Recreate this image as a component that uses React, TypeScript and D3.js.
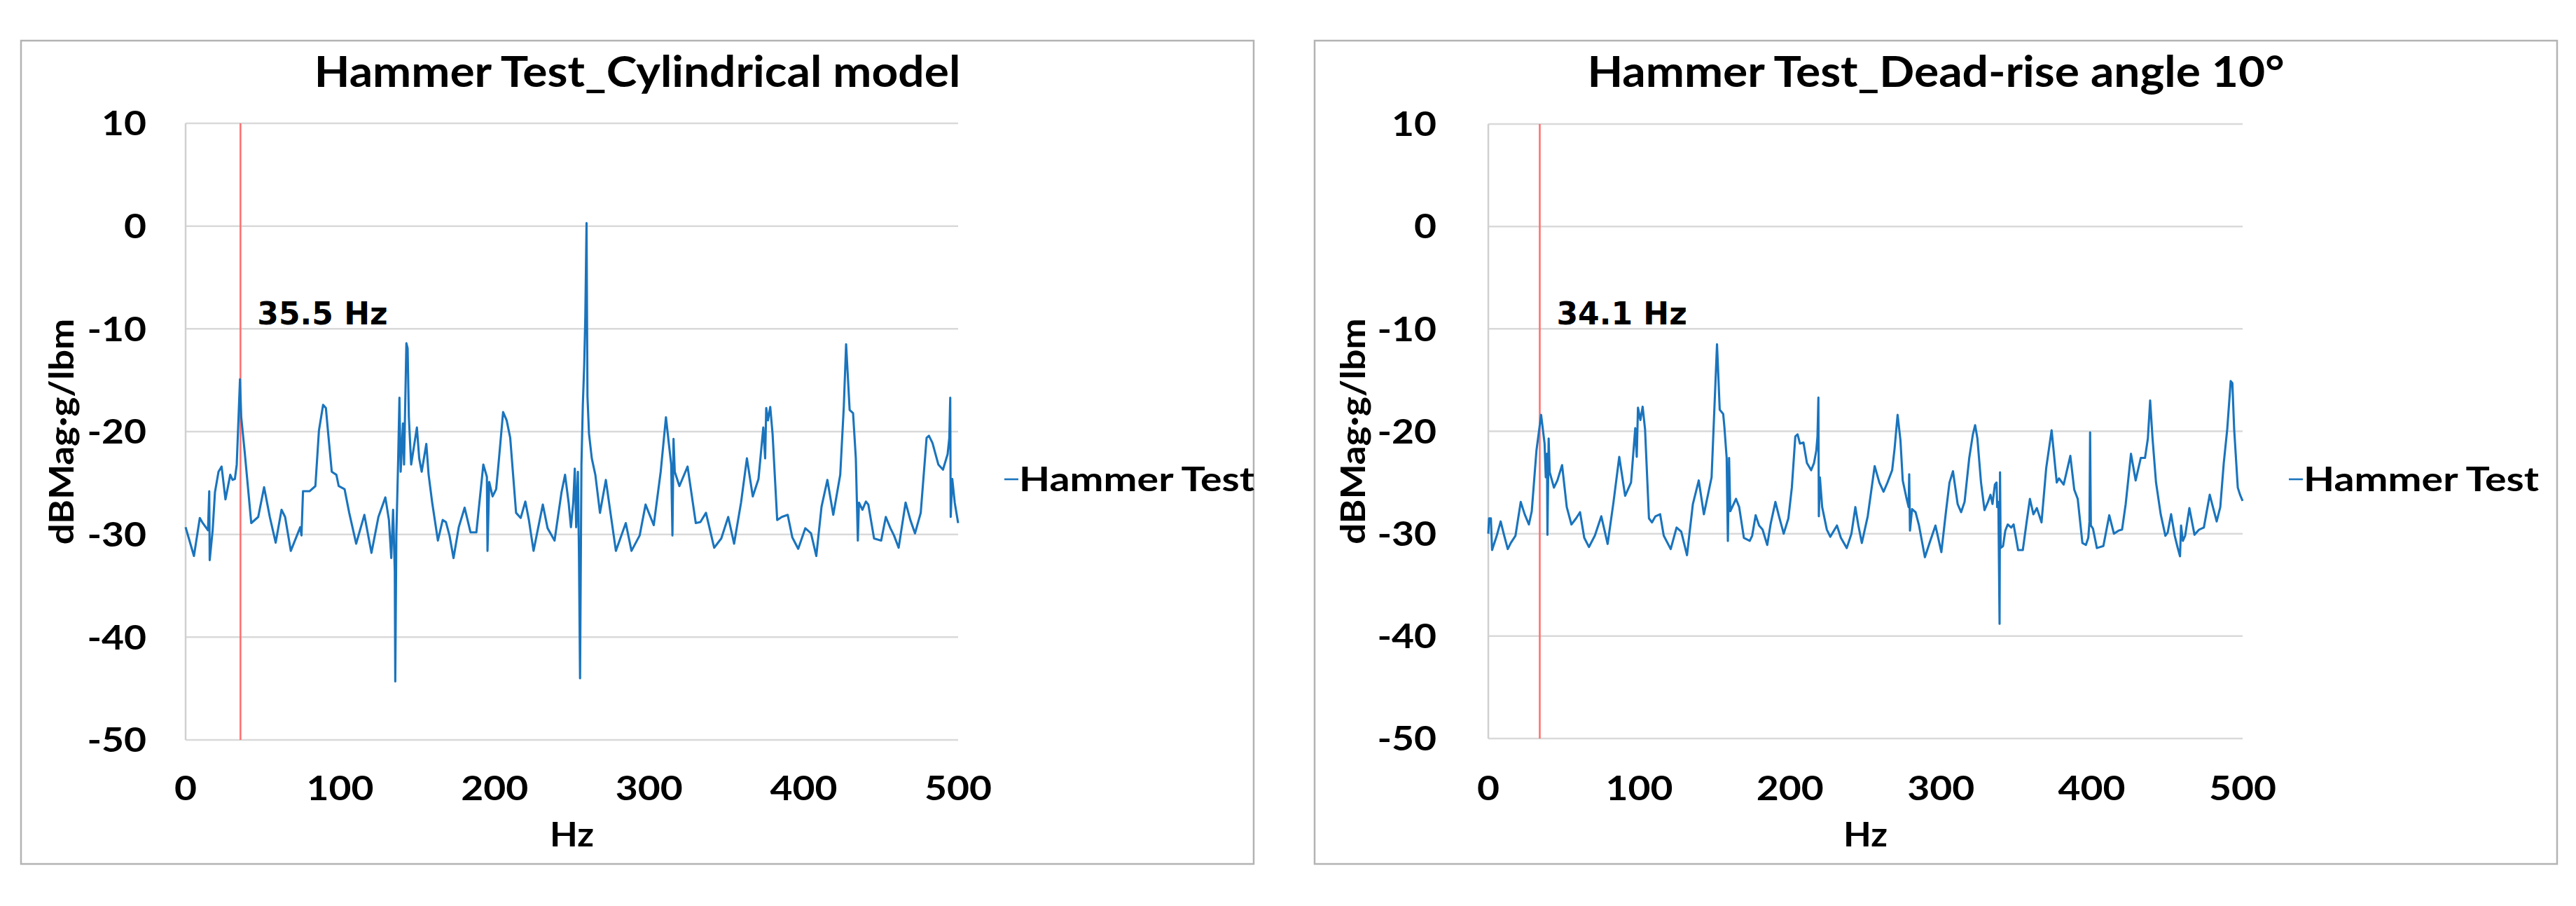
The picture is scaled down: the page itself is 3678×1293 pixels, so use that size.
import React from 'react';
import * as d3 from 'd3';

const xTicks = [0, 100, 200, 300, 400, 500];
const yTicks = [10, 0, -10, -20, -30, -40, -50];
const seriesName = 'Hammer Test';
const xTitle = 'Hz';
const yTitle = 'dBMag·g/lbm';

const cylTitle = 'Hammer Test_Cylindrical model';
const cylMarkerHz = 35.5;
const cylMarkerLabel = '35.5 Hz';
const cylHz = [0, 5.4, 9.2, 10.7, 14.5, 15.3, 15.6, 17.5, 19.0, 21.3, 23.3, 25.8, 28.9, 30.4, 31.9, 33.1, 35.2, 36.0, 38.2, 42.5, 47.0, 50.8, 54.5, 58.3, 62.1, 64.4, 68.1, 74.2, 75.0, 76.0, 80.2, 84.0, 86.3, 89.0, 90.8, 92.3, 94.6, 97.6, 99.1, 102.9, 105.9, 110.4, 115.7, 120.3, 124.8, 129.3, 131.6, 133.1, 134.3, 135.4, 135.7, 136.4, 137.6, 138.4, 139.2, 140.7, 141.4, 142.9, 143.7, 144.5, 146.0, 149.7, 151.2, 152.8, 155.8, 157.3, 159.6, 163.3, 166.4, 168.5, 170.8, 173.4, 176.8, 180.6, 184.4, 188.2, 192.7, 195.0, 195.4, 196.5, 198.7, 201.0, 202.5, 205.5, 207.8, 210.1, 213.9, 216.9, 219.9, 222.2, 225.2, 231.2, 234.3, 238.8, 243.3, 245.6, 247.9, 249.4, 250.9, 251.9, 252.8, 253.9, 254.6, 255.3, 256.2, 257.1, 258.0, 258.7, 259.5, 260.1, 261.1, 262.9, 265.2, 268.2, 272.0, 275.0, 278.5, 284.9, 288.6, 293.9, 297.7, 303.0, 307.5, 310.9, 312.8, 314.3, 315.1, 315.8, 316.6, 319.6, 324.9, 330.2, 333.2, 336.8, 342.1, 346.7, 351.2, 355.0, 359.5, 363.3, 367.1, 370.8, 373.9, 375.1, 375.8, 376.9, 378.4, 379.9, 382.9, 385.9, 389.7, 392.7, 396.5, 401.1, 404.8, 408.2, 411.6, 415.4, 419.2, 423.7, 426.0, 427.5, 429.8, 432.0, 433.8, 435.1, 435.8, 438.1, 440.3, 441.9, 445.6, 450.2, 453.2, 456.2, 458.5, 461.5, 466.0, 469.1, 472.1, 475.8, 479.6, 481.1, 483.4, 487.2, 490.2, 493.2, 494.3, 494.9, 495.2, 496.2, 497.8, 500.0];
const cylDb = [-29.3, -32.1, -28.4, -28.8, -29.6, -25.8, -32.5, -29.6, -25.9, -23.9, -23.4, -26.6, -24.2, -24.7, -24.6, -23.2, -14.9, -18.6, -21.9, -28.9, -28.3, -25.4, -28.3, -30.8, -27.6, -28.3, -31.6, -29.3, -30.1, -25.8, -25.8, -25.3, -19.9, -17.4, -17.7, -20.2, -23.9, -24.2, -25.3, -25.6, -27.9, -30.9, -28.1, -31.8, -28.3, -26.4, -28.6, -32.3, -27.6, -33.6, -44.3, -30.1, -22.6, -16.7, -23.9, -19.2, -23.2, -11.4, -11.9, -18.6, -23.2, -19.6, -22.6, -23.9, -21.2, -24.2, -26.9, -30.6, -28.6, -28.8, -30.1, -32.3, -29.3, -27.4, -29.8, -29.8, -23.2, -24.4, -31.6, -24.9, -26.3, -25.6, -23.2, -18.1, -18.9, -20.6, -27.9, -28.4, -26.8, -28.6, -31.6, -27.1, -29.4, -30.6, -25.9, -24.2, -26.9, -29.3, -26.9, -23.6, -29.3, -23.9, -31.9, -44.0, -23.2, -17.4, -13.5, -8.9, 0.3, -16.6, -20.2, -22.6, -24.2, -27.9, -24.7, -27.9, -31.6, -28.9, -31.6, -30.1, -27.1, -29.1, -23.9, -18.6, -21.2, -23.2, -30.1, -20.7, -23.9, -25.3, -23.4, -28.9, -28.8, -27.9, -31.3, -30.4, -28.3, -30.9, -26.9, -22.6, -26.3, -24.6, -19.6, -22.6, -17.7, -18.9, -17.6, -20.2, -28.6, -28.3, -28.1, -30.3, -31.4, -29.4, -29.9, -32.1, -27.3, -24.7, -28.1, -24.2, -17.6, -11.5, -17.9, -18.2, -22.6, -30.6, -26.9, -27.6, -26.8, -27.1, -30.4, -30.6, -28.3, -29.4, -30.1, -31.3, -26.9, -28.6, -29.9, -27.9, -20.6, -20.4, -21.1, -23.2, -23.7, -22.2, -20.6, -16.7, -28.3, -24.6, -26.9, -28.9];

const deadTitle = 'Hammer Test_Dead-rise angle 10°';
const deadMarkerHz = 34.1;
const deadMarkerLabel = '34.1 Hz';
const deadHz = [0, 0.5, 1.7, 2.5, 5.6, 8.2, 10.2, 12.9, 14.9, 18.0, 21.5, 24.1, 26.9, 28.8, 31.9, 35.0, 37.3, 38.1, 38.9, 39.2, 40.0, 40.7, 43.5, 45.8, 48.9, 52.0, 55.1, 58.2, 60.8, 63.6, 66.7, 70.6, 74.9, 79.1, 83.0, 86.8, 90.7, 94.6, 97.4, 98.4, 99.2, 100.8, 102.3, 103.9, 106.5, 108.5, 110.8, 113.9, 116.3, 120.9, 124.8, 127.9, 131.7, 135.6, 139.5, 142.9, 148.0, 151.6, 153.4, 155.7, 156.5, 158.0, 158.8, 159.6, 160.4, 164.2, 166.3, 169.4, 173.3, 174.9, 177.2, 179.5, 181.8, 184.9, 187.2, 190.3, 192.7, 195.8, 198.9, 201.2, 203.5, 205.0, 206.6, 208.9, 211.2, 214.0, 215.9, 217.4, 218.2, 218.8, 219.1, 219.8, 221.3, 224.4, 226.7, 231.1, 233.7, 237.6, 240.7, 243.3, 245.3, 247.6, 251.5, 256.1, 259.2, 262.0, 264.6, 267.7, 269.3, 271.3, 273.2, 274.7, 277.0, 278.6, 279.0, 279.5, 280.9, 283.2, 285.5, 289.4, 292.5, 296.4, 300.3, 303.4, 305.7, 308.0, 311.1, 313.4, 315.7, 318.8, 321.2, 322.7, 324.2, 326.6, 328.9, 331.2, 332.9, 334.2, 335.8, 336.9, 337.3, 338.1, 338.9, 339.2, 339.6, 341.2, 342.7, 344.3, 346.6, 348.2, 351.2, 354.3, 356.7, 359.0, 361.3, 363.6, 366.7, 369.8, 373.4, 376.8, 378.3, 381.4, 385.8, 388.4, 390.7, 393.8, 396.1, 397.7, 398.5, 398.9, 399.4, 400.8, 403.4, 407.7, 411.6, 414.7, 417.8, 420.1, 422.5, 426.0, 429.1, 432.5, 435.3, 437.2, 438.7, 440.3, 442.6, 445.7, 448.8, 450.3, 452.6, 455.0, 457.0, 458.5, 459.2, 460.4, 461.9, 464.7, 468.1, 471.2, 474.3, 478.2, 482.8, 485.2, 487.5, 489.8, 492.1, 493.2, 494.4, 496.8, 498.3, 500.0];
const deadDb = [-30.0, -28.5, -28.5, -31.6, -30.2, -28.8, -30.0, -31.5, -30.9, -30.2, -26.9, -28.1, -29.1, -27.8, -21.9, -18.4, -21.2, -24.5, -22.2, -30.1, -20.7, -24.0, -25.5, -24.8, -23.3, -27.4, -29.1, -28.5, -27.9, -30.4, -31.3, -30.2, -28.3, -31.0, -26.9, -22.5, -26.3, -25.0, -19.7, -22.5, -17.7, -18.9, -17.6, -19.8, -28.5, -28.9, -28.3, -28.1, -30.2, -31.5, -29.4, -29.8, -32.1, -27.1, -24.8, -28.1, -24.5, -11.5, -17.9, -18.3, -19.6, -22.6, -30.7, -22.6, -27.8, -26.6, -27.4, -30.4, -30.7, -30.2, -28.2, -29.2, -29.6, -31.1, -29.0, -26.9, -28.3, -30.0, -28.5, -25.5, -20.5, -20.3, -21.2, -21.1, -23.1, -23.8, -23.1, -21.9, -20.5, -16.7, -28.3, -24.5, -27.4, -29.6, -30.3, -29.2, -30.4, -31.4, -30.0, -27.4, -29.2, -30.9, -28.3, -23.4, -25.0, -25.9, -25.0, -23.8, -21.7, -18.4, -20.9, -24.8, -26.4, -27.4, -24.2, -29.7, -27.6, -27.9, -29.2, -32.3, -30.9, -29.2, -31.8, -27.8, -25.0, -23.9, -27.1, -27.9, -26.9, -22.6, -20.3, -19.4, -20.7, -25.0, -27.7, -26.9, -26.2, -27.1, -25.2, -25.0, -27.4, -26.9, -38.8, -24.0, -31.4, -31.2, -29.7, -29.1, -29.4, -29.1, -31.6, -31.6, -29.0, -26.6, -28.1, -27.5, -28.9, -23.6, -19.9, -25.0, -24.6, -25.2, -22.4, -25.7, -26.6, -30.9, -31.1, -30.4, -28.8, -20.1, -29.2, -29.5, -31.4, -31.2, -28.2, -30.0, -29.7, -29.6, -27.1, -22.2, -24.8, -22.6, -22.6, -20.7, -17.0, -20.7, -25.0, -28.1, -30.2, -29.9, -28.1, -30.2, -31.4, -32.2, -29.2, -30.7, -30.2, -27.5, -30.1, -29.6, -29.4, -26.2, -28.8, -27.4, -23.1, -19.8, -15.1, -15.3, -19.8, -25.5, -26.2, -26.8];

const FONT = 'Lato, "Open Sans", sans-serif';
const NOTE_FONT = '"DejaVu Sans", Verdana, sans-serif';

type Layout = {
  px0: number; px1: number; py0: number; py1: number;
  left: number; right: number; top: number; bottom: number;
  tickRight: number; yTitleX: number; legendX: number;
};

function WideText({ x, y, sx, size, anchor, dy, rotate, children, family = FONT }: {
  x: number; y: number; sx: number; size: number; anchor?: string; dy?: string; rotate?: number; children: React.ReactNode; family?: string;
}) {
  const rot = rotate ? ` rotate(${rotate})` : '';
  return (
    <text transform={`translate(${x},${y})${rot} scale(${sx},1)`} x={0} y={0} dy={dy}
      textAnchor={anchor || 'start'} fontFamily={family} fontWeight={700} fontSize={size} fill="#000">{children}</text>
  );
}

function Panel({ layout, title, hz, db, markerHz, markerLabel }: {
  layout: Layout; title: string; hz: number[]; db: number[]; markerHz: number; markerLabel: string;
}) {
  const L = layout;
  const x = d3.scaleLinear().domain([0, 500]).range([L.left, L.right]);
  const y = d3.scaleLinear().domain([-50, 10]).range([L.bottom, L.top]);
  const pts = hz.map((h, i) => [h, db[i]] as [number, number]);
  const path = d3.line<[number, number]>().x(d => x(d[0])).y(d => y(d[1]))(pts) || '';
  const cx = (L.px0 + L.px1) / 2;
  const pcx = (L.left + L.right) / 2;
  const pcy = (L.top + L.bottom) / 2;
  return (
    <g>
      <rect x={L.px0} y={L.py0} width={L.px1 - L.px0} height={L.py1 - L.py0} fill="#fff" stroke="#b3b3b3" strokeWidth={2.5} />
      <WideText x={cx} y={124} sx={1.08} size={61} anchor="middle">{title}</WideText>
      {yTicks.map(t => (
        <line key={'g' + t} x1={L.left} x2={L.right} y1={y(t)} y2={y(t)} stroke="#d9d9d9" strokeWidth={2.5} />
      ))}
      <line x1={L.left} x2={L.left} y1={L.top} y2={L.bottom} stroke="#d0d0d0" strokeWidth={2.5} />
      {yTicks.map(t => (
        <WideText key={'yl' + t} x={L.tickRight} y={y(t)} dy="0.36em" sx={1.15} size={48} anchor="end">{t}</WideText>
      ))}
      {xTicks.map(t => (
        <WideText key={'xl' + t} x={x(t)} y={1142} sx={1.15} size={48} anchor="middle">{t}</WideText>
      ))}
      <WideText x={pcx} y={1208} sx={1.1} size={47} anchor="middle">{xTitle}</WideText>
      <WideText x={L.yTitleX} y={pcy} rotate={-90} dy="0.36em" sx={1.1} size={48} anchor="middle">{yTitle}</WideText>
      <line x1={x(markerHz)} x2={x(markerHz)} y1={L.top} y2={L.bottom} stroke="#ff7272" strokeWidth={2.6} />
      <path d={path} fill="none" stroke="#1a74bd" strokeWidth={3.1} strokeLinejoin="round" />
      <WideText x={x(markerHz) + 24} y={463} sx={1} size={44} family={NOTE_FONT}>{markerLabel}</WideText>
      <line x1={L.legendX} x2={L.legendX + 20} y1={684} y2={684} stroke="#1a74bd" strokeWidth={2.6} />
      <WideText x={L.legendX + 21} y={684} dy="0.36em" sx={1.22} size={47}>{seriesName}</WideText>
    </g>
  );
}

const leftLayout: Layout = { px0: 30, px1: 1790, py0: 58, py1: 1233, left: 265, right: 1368, top: 176, bottom: 1056, tickRight: 209, yTitleX: 88, legendX: 1434 };
const rightLayout: Layout = { px0: 1877, px1: 3651, py0: 58, py1: 1233, left: 2125, right: 3202, top: 177, bottom: 1054, tickRight: 2051, yTitleX: 1932, legendX: 3268 };

export default function App() {
  return (
    <svg width={3678} height={1293} style={{ position: 'absolute', left: 0, top: 0, background: '#fff' }}>
      <rect x={0} y={0} width={3678} height={1293} fill="#fff" />
      <Panel layout={leftLayout} title={cylTitle} hz={cylHz} db={cylDb} markerHz={cylMarkerHz} markerLabel={cylMarkerLabel} />
      <Panel layout={rightLayout} title={deadTitle} hz={deadHz} db={deadDb} markerHz={deadMarkerHz} markerLabel={deadMarkerLabel} />
    </svg>
  );
}
